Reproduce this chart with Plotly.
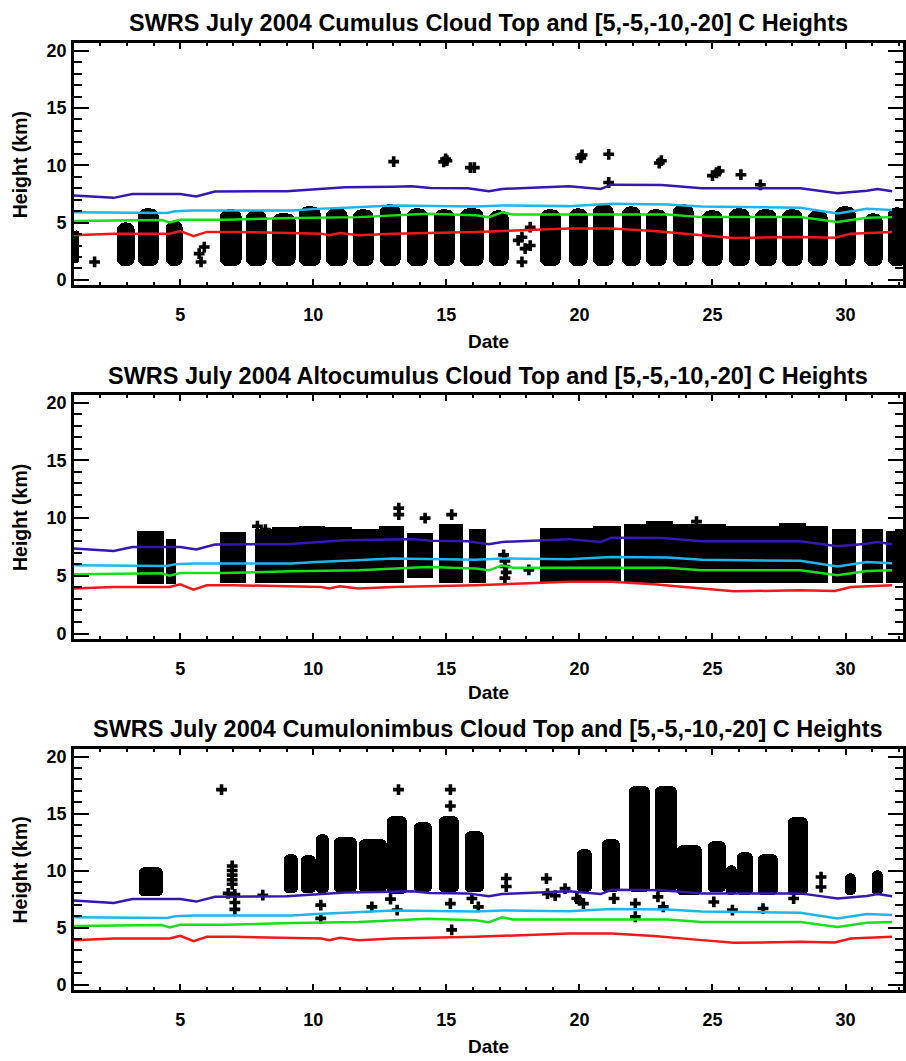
import plotly.graph_objects as go

# ---------------- temperature-level heights (km), shared by all panels ----------------
blue_day = [1.0, 2.5, 3.2, 5.0, 5.6, 6.3, 9.0, 10.1, 11.2, 13.0, 13.7, 14.4, 15.8, 16.6, 17.1,
            19.6, 20.8, 21.2, 23.1, 24.6, 28.3, 29.7, 30.8, 31.2, 31.75]
blue_km = [7.37, 7.16, 7.50, 7.50, 7.28, 7.71, 7.74, 7.94, 8.08, 8.14, 8.18, 8.03, 8.00, 7.74, 7.94,
           8.18, 7.94, 8.31, 8.28, 8.00, 8.00, 7.56, 7.78, 7.94, 7.74]

cyan_day = [1.0, 4.5, 4.8, 5.5, 9.2, 10.1, 11.2, 13.0, 16.1, 17.1, 19.6, 21.2, 23.3, 24.6, 28.3,
            29.7, 30.8, 31.75]
cyan_km = [5.91, 5.85, 6.00, 6.06, 6.06, 6.20, 6.30, 6.50, 6.40, 6.50, 6.44, 6.64, 6.58, 6.40, 6.30,
           5.80, 6.20, 6.10]

green_day = [1.0, 4.3, 4.6, 5.0, 6.7, 9.2, 11.7, 13.0, 14.3, 16.1, 16.6, 17.1, 17.5, 23.3, 24.6,
             28.3, 29.7, 30.8, 31.75]
green_km = [5.14, 5.22, 5.02, 5.25, 5.25, 5.40, 5.48, 5.64, 5.77, 5.64, 5.48, 5.91, 5.71, 5.71, 5.48,
            5.48, 5.05, 5.42, 5.48]

red_day = [1.0, 2.5, 4.6, 5.0, 5.5, 6.0, 7.0, 10.3, 10.6, 11.0, 11.7, 13.0, 16.1, 18.1, 19.6, 21.2,
           22.8, 24.6, 25.8, 28.3, 29.6, 30.2, 31.75]
red_km = [3.90, 4.04, 4.04, 4.27, 3.81, 4.19, 4.19, 4.04, 3.90, 4.10, 3.90, 4.04, 4.19, 4.39, 4.48, 4.48,
          4.27, 3.90, 3.66, 3.75, 3.69, 4.04, 4.19]

# ---------------- Cumulus cloud tops ----------------
cu_start = [1.0, 2.6, 3.4, 4.45, 6.5, 7.46, 8.45, 9.46, 10.46, 11.5, 12.5, 13.5, 14.54, 15.5, 16.6,
            18.5, 19.6, 20.5, 21.6, 22.5, 23.5, 24.6, 25.6, 26.6, 27.6, 28.6, 29.6, 30.7, 31.6]
cu_end = [1.2, 3.3, 4.2, 5.1, 7.3, 8.27, 9.34, 10.3, 11.3, 12.27, 13.3, 14.3, 15.3, 16.4, 17.35,
          19.3, 20.3, 21.3, 22.3, 23.3, 24.3, 25.4, 26.4, 27.4, 28.4, 29.35, 30.4, 31.4, 32.3]
cu_base = [1.45, 1.15, 1.15, 1.15, 1.15, 1.15, 1.15, 1.15, 1.15, 1.15, 1.15, 1.15, 1.15, 1.15, 1.15,
           1.15, 1.15, 1.15, 1.15, 1.15, 1.15, 1.15, 1.15, 1.15, 1.15, 1.15, 1.15, 1.15, 1.15]
cu_top = [4.3, 5.03, 6.2, 5.18, 6.11, 6.07, 5.76, 6.4, 6.28, 6.11, 6.63, 6.2, 6.11, 6.2, 6.07,
          6.11, 6.28, 6.63, 6.4, 6.11, 6.63, 6.07, 6.2, 6.11, 6.11, 6.07, 6.4, 5.82, 6.3]
cu_pt_day = [1.78, 5.9, 5.71, 5.78, 13.02, 14.9, 14.97, 15.02, 15.9, 16.05, 17.7, 17.84, 17.84, 17.96,
             18.15, 18.15, 20.05, 20.1, 21.1, 21.1, 23.0, 23.08, 25.0, 25.15, 25.25, 26.07, 26.8]
cu_pt_km = [1.57, 2.87, 2.3, 1.57, 10.32, 10.3, 10.55, 10.4, 9.8, 9.8, 3.45, 3.73, 1.57, 2.73,
            4.6, 3.0, 10.65, 10.9, 10.96, 8.5, 10.2, 10.4, 9.1, 9.35, 9.5, 9.18, 8.3]

# ---------------- Altocumulus cloud tops ----------------
ac_start = [3.35, 4.45, 6.5, 7.8, 8.45, 9.45, 10.45, 11.45, 12.45, 13.5, 14.7, 15.84, 18.53, 19.5,
            20.5, 21.65, 22.5, 23.5, 24.5, 25.5, 26.5, 27.5, 28.5, 29.5, 30.6, 31.5]
ac_end = [4.4, 4.85, 7.46, 8.45, 9.45, 10.45, 11.45, 12.45, 13.4, 14.5, 15.6, 16.5, 19.5, 20.5,
          21.55, 22.5, 23.5, 24.5, 25.5, 26.5, 27.5, 28.5, 29.35, 30.4, 31.4, 32.3]
ac_base = [4.3, 4.3, 4.35, 4.35, 4.35, 4.35, 4.35, 4.35, 4.35, 4.75, 4.35, 4.37, 4.37, 4.37,
           4.37, 4.37, 4.37, 4.37, 4.37, 4.37, 4.37, 4.37, 4.37, 4.37, 4.37, 4.37]
ac_top = [8.84, 8.12, 8.75, 8.99, 9.2, 9.3, 9.2, 9.0, 9.3, 8.7, 9.42, 8.99, 9.13, 9.13,
          9.27, 9.42, 9.7, 9.42, 9.42, 9.27, 9.27, 9.56, 9.27, 8.99, 8.99, 8.84]
ac_pt_day = [13.21, 13.21, 14.2, 15.2, 17.15, 17.2, 17.2, 17.25, 17.2, 18.1, 24.4, 7.9, 8.2]
ac_pt_km = [10.87, 10.3, 10.0, 10.3, 6.82, 6.3, 5.81, 5.3, 4.8, 5.52, 9.7, 9.3, 9.0]

# ---------------- Cumulonimbus cloud tops ----------------
cb_start = [3.46, 8.9, 9.53, 10.09, 10.78, 11.7, 12.77, 13.77, 14.7, 15.7, 19.9, 20.84, 21.84, 22.84,
            23.65, 24.83, 25.52, 25.9, 26.7, 27.83, 29.96, 31.0]
cb_end = [4.34, 9.4, 10.09, 10.59, 11.65, 12.77, 13.5, 14.46, 15.46, 16.4, 20.45, 21.5, 22.65, 23.65,
          24.6, 25.52, 25.9, 26.52, 27.45, 28.58, 30.4, 31.4]
cb_base = [7.7, 8.0, 8.0, 8.0, 8.13, 8.13, 7.9, 8.13, 8.13, 8.1, 8.1, 8.1, 8.1, 8.1,
           7.84, 8.1, 7.84, 7.84, 7.84, 7.84, 7.84, 7.84]
cb_top = [10.3, 11.46, 11.3, 13.2, 12.9, 12.76, 14.79, 14.2, 14.79, 13.48, 11.9, 12.76, 17.4, 17.4,
          12.18, 12.6, 10.5, 11.6, 11.46, 14.64, 9.72, 10.0]
cb_pt_day = [6.55, 6.8, 6.95, 6.95, 6.95, 6.95, 6.95, 7.05, 7.05, 7.05, 8.1, 10.28, 10.28, 12.2, 13.2,
             12.9, 13.15, 15.15, 15.15, 15.15, 15.2, 15.96, 16.2, 17.25, 17.25, 18.76, 18.8, 19.09,
             19.46, 19.9, 20.0, 20.15, 21.3, 22.1, 22.1, 22.95, 23.15, 25.05, 25.75, 26.9, 28.05,
             29.08, 29.08]
cb_pt_km = [17.1, 8.0, 10.4, 10.0, 9.6, 9.2, 8.8, 7.9, 7.2, 6.6, 7.84, 6.97, 5.81, 6.82, 17.1,
            7.5, 6.53, 17.1, 15.66, 7.1, 4.8, 7.55, 6.82, 9.3, 8.6, 9.29, 7.98, 7.8,
            8.42, 7.55, 7.4, 7.1, 7.55, 7.1, 5.95, 7.69, 6.82, 7.25, 6.53, 6.67, 7.55,
            9.43, 8.56]

titles = ["SWRS July 2004 Cumulus Cloud Top and [5,-5,-10,-20] C Heights",
          "SWRS July 2004 Altocumulus Cloud Top and [5,-5,-10,-20] C Heights",
          "SWRS July 2004 Cumulonimbus Cloud Top and [5,-5,-10,-20] C Heights"]
x_tick_step = 5
y_tick_step = 5

# ---------------- layout geometry (pixels) ----------------
W, H = 906, 1061
box_left, box_right = 74, 905
boxes = [(41.7, 285.0), (396.0, 641.0), (752.3, 994.3)]   # (top, bottom) in px
title_y = [20.7, 376.0, 731.7]
date_y = [341.7, 695.0, 1051.7]
radius = [8, 0, 5]

panels = [
    (cu_start, cu_end, cu_base, cu_top, cu_pt_day, cu_pt_km),
    (ac_start, ac_end, ac_base, ac_top, ac_pt_day, ac_pt_km),
    (cb_start, cb_end, cb_base, cb_top, cb_pt_day, cb_pt_km),
]
lines = [(red_day, red_km, "#f01818"), (green_day, green_km, "#18e018"),
         (cyan_day, cyan_km, "#20b4ec"), (blue_day, blue_km, "#3418b0")]

FONT = "Liberation Sans, Arial, Helvetica, sans-serif"
fig = go.Figure()
annotations = []
layout = {}
for i, (st, en, bs, tp, pd_, pk) in enumerate(panels):
    sfx = "" if i == 0 else str(i + 1)
    xa, ya = "x" + sfx, "y" + sfx
    centers = [(a + b) / 2 for a, b in zip(st, en)]
    widths = [b - a for a, b in zip(st, en)]
    heights = [t - b for t, b in zip(tp, bs)]
    fig.add_trace(go.Bar(x=centers, y=heights, base=bs, width=widths,
                         marker=dict(color="black", line=dict(width=0), cornerradius=radius[i]),
                         xaxis=xa, yaxis=ya, showlegend=False))
    fig.add_trace(go.Scatter(x=pd_, y=pk, mode="markers",
                             marker=dict(symbol="cross", size=9, color="black"),
                             xaxis=xa, yaxis=ya, showlegend=False))
    for d, v, c in lines:
        fig.add_trace(go.Scatter(x=d, y=v, mode="lines", line=dict(color=c, width=2.5),
                                 xaxis=xa, yaxis=ya, showlegend=False))
    top, bot = boxes[i]
    common = dict(showline=True, linewidth=2.5, linecolor="black", mirror="ticks",
                  showgrid=False, zeroline=False, ticks="inside", tickcolor="black",
                  tickwidth=1.5, tickmode="linear", tick0=0,
                  tickfont=dict(family=FONT, size=18, color="black", weight="bold"))
    layout["xaxis" + sfx] = dict(common, anchor=ya, domain=[box_left / W, box_right / W],
                                 range=[1, 32.16], dtick=x_tick_step, ticklen=6,
                                 ticklabelstandoff=12,
                                 minor=dict(dtick=1, ticks="inside", ticklen=3, tickwidth=1.5,
                                            tickcolor="black"))
    layout["yaxis" + sfx] = dict(common, anchor=xa, domain=[1 - bot / H, 1 - top / H],
                                 range=[-0.45, 20.63], dtick=y_tick_step, ticklen=15,
                                 ticklabelstandoff=1,
                                 minor=dict(dtick=1, ticks="inside", ticklen=8, tickwidth=1.5,
                                            tickcolor="black"))
    cx = (box_left + box_right) / 2 / W
    annotations.append(dict(text=titles[i], x=cx, y=1 - title_y[i] / H, xref="paper", yref="paper",
                            showarrow=False, xanchor="center", yanchor="middle",
                            font=dict(family=FONT, size=23.5, color="black", weight="bold")))
    annotations.append(dict(text="Date", x=cx, y=1 - date_y[i] / H, xref="paper", yref="paper",
                            showarrow=False, xanchor="center", yanchor="middle",
                            font=dict(family=FONT, size=19, color="black", weight="bold")))
    annotations.append(dict(text="Height (km)", x=20 / W, y=1 - (top + bot) / 2 / H,
                            xref="paper", yref="paper", showarrow=False, textangle=-90,
                            xanchor="center", yanchor="middle",
                            font=dict(family=FONT, size=19.5, color="black", weight="bold")))

fig.update_layout(width=W, height=H, margin=dict(l=0, r=0, t=0, b=0),
                  paper_bgcolor="white", plot_bgcolor="white", barmode="overlay",
                  bargap=0, annotations=annotations, **layout)
fig.write_html("out.html")
